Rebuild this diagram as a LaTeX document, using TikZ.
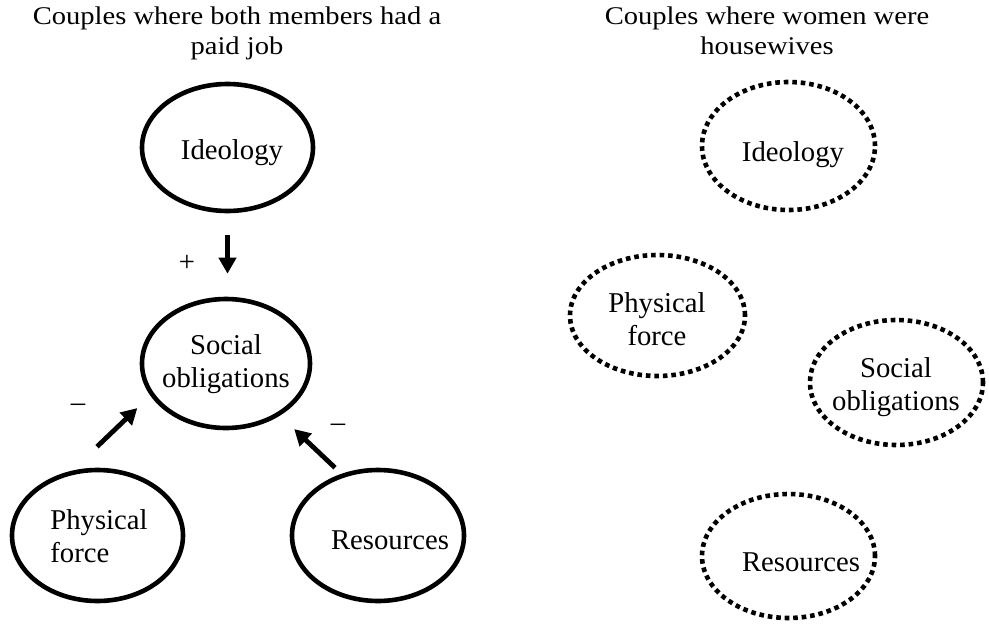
\documentclass[tikz,border=0pt]{standalone}
\usepackage{fontspec}
\setmainfont{Liberation Serif}
\newfontfamily\titlefont[FakeStretch=1.12]{Liberation Serif}
\usetikzlibrary{shapes.geometric,arrows.meta}
\begin{document}
\begin{tikzpicture}[x=1pt,y=-1pt,
  oval/.style={ellipse, draw, line width=4.6pt, inner sep=0pt},
  dotoval/.style={oval, line cap=butt, dash pattern=on 4.6pt off 3.9pt},
  lbl/.style={font=\fontsize{28.7}{33}\selectfont, inner sep=0pt, align=center},
  ttl/.style={font=\titlefont\fontsize{25.5}{30}\selectfont, inner sep=0pt, align=center, anchor=north},
  arr/.style={line width=4.8pt, -{Triangle[length=16pt,width=17pt]}},
]
\useasboundingbox (0,0) rectangle (989,627);

% titles
\node[ttl] (ttlL) at (237,7) {Couples where both members had a\\paid job};
\node[ttl] (ttlR) at (767,7) {Couples where women were\\housewives};

% left panel: dual-earner couples
\node[oval, minimum width=171pt, minimum height=127pt] (ideoL) at (227.5,147.5) {};
\node[oval, minimum width=168pt, minimum height=129pt] (socL) at (226,363.5) {};
\node[oval, minimum width=171pt, minimum height=131pt] (physL) at (97.5,535.5) {};
\node[oval, minimum width=172pt, minimum height=131pt] (resL) at (378,535.5) {};

\node[lbl] (ideoLt) at (232,153) {Ideology};
\node[lbl] (socLt) at (226,364) {Social\\obligations};
\node[lbl, align=left] (physLt) at (99,536) {Physical\\force};
\node[lbl] (resLt) at (390,540) {Resources};

\draw[arr, shorten <=22pt, shorten >=23pt] (ideoL.south) -- (ideoL.south |- socL.north);
\draw[arr, shorten >=18pt] ([shift={(-0.5,-21)}]physL.north) -- (socL.203);
\draw[arr, shorten >=19.6pt] ([shift={(-43,0)}]resL.north) -- (socL.316);

\node[lbl] (plus) at (187,263) {+};
\node[lbl] (minusL) at (78,408) {–};
\node[lbl] (minusR) at (338,428) {–};

% right panel: housewife couples
\node[dotoval, minimum width=173pt, minimum height=128pt] (ideoR) at (788.5,146) {};
\node[dotoval, minimum width=175pt, minimum height=121pt] (physR) at (657.5,315.5) {};
\node[dotoval, minimum width=173pt, minimum height=125pt] (socR) at (896.5,382.5) {};
\node[dotoval, minimum width=173pt, minimum height=124pt] (resR) at (788.5,556) {};

\node[lbl] (ideoRt) at (793,155) {Ideology};
\node[lbl] (physRt) at (657,319) {Physical\\force};
\node[lbl] (socRt) at (896,387) {Social\\obligations};
\node[lbl] (resRt) at (801,562) {Resources};
\end{tikzpicture}
\end{document}
